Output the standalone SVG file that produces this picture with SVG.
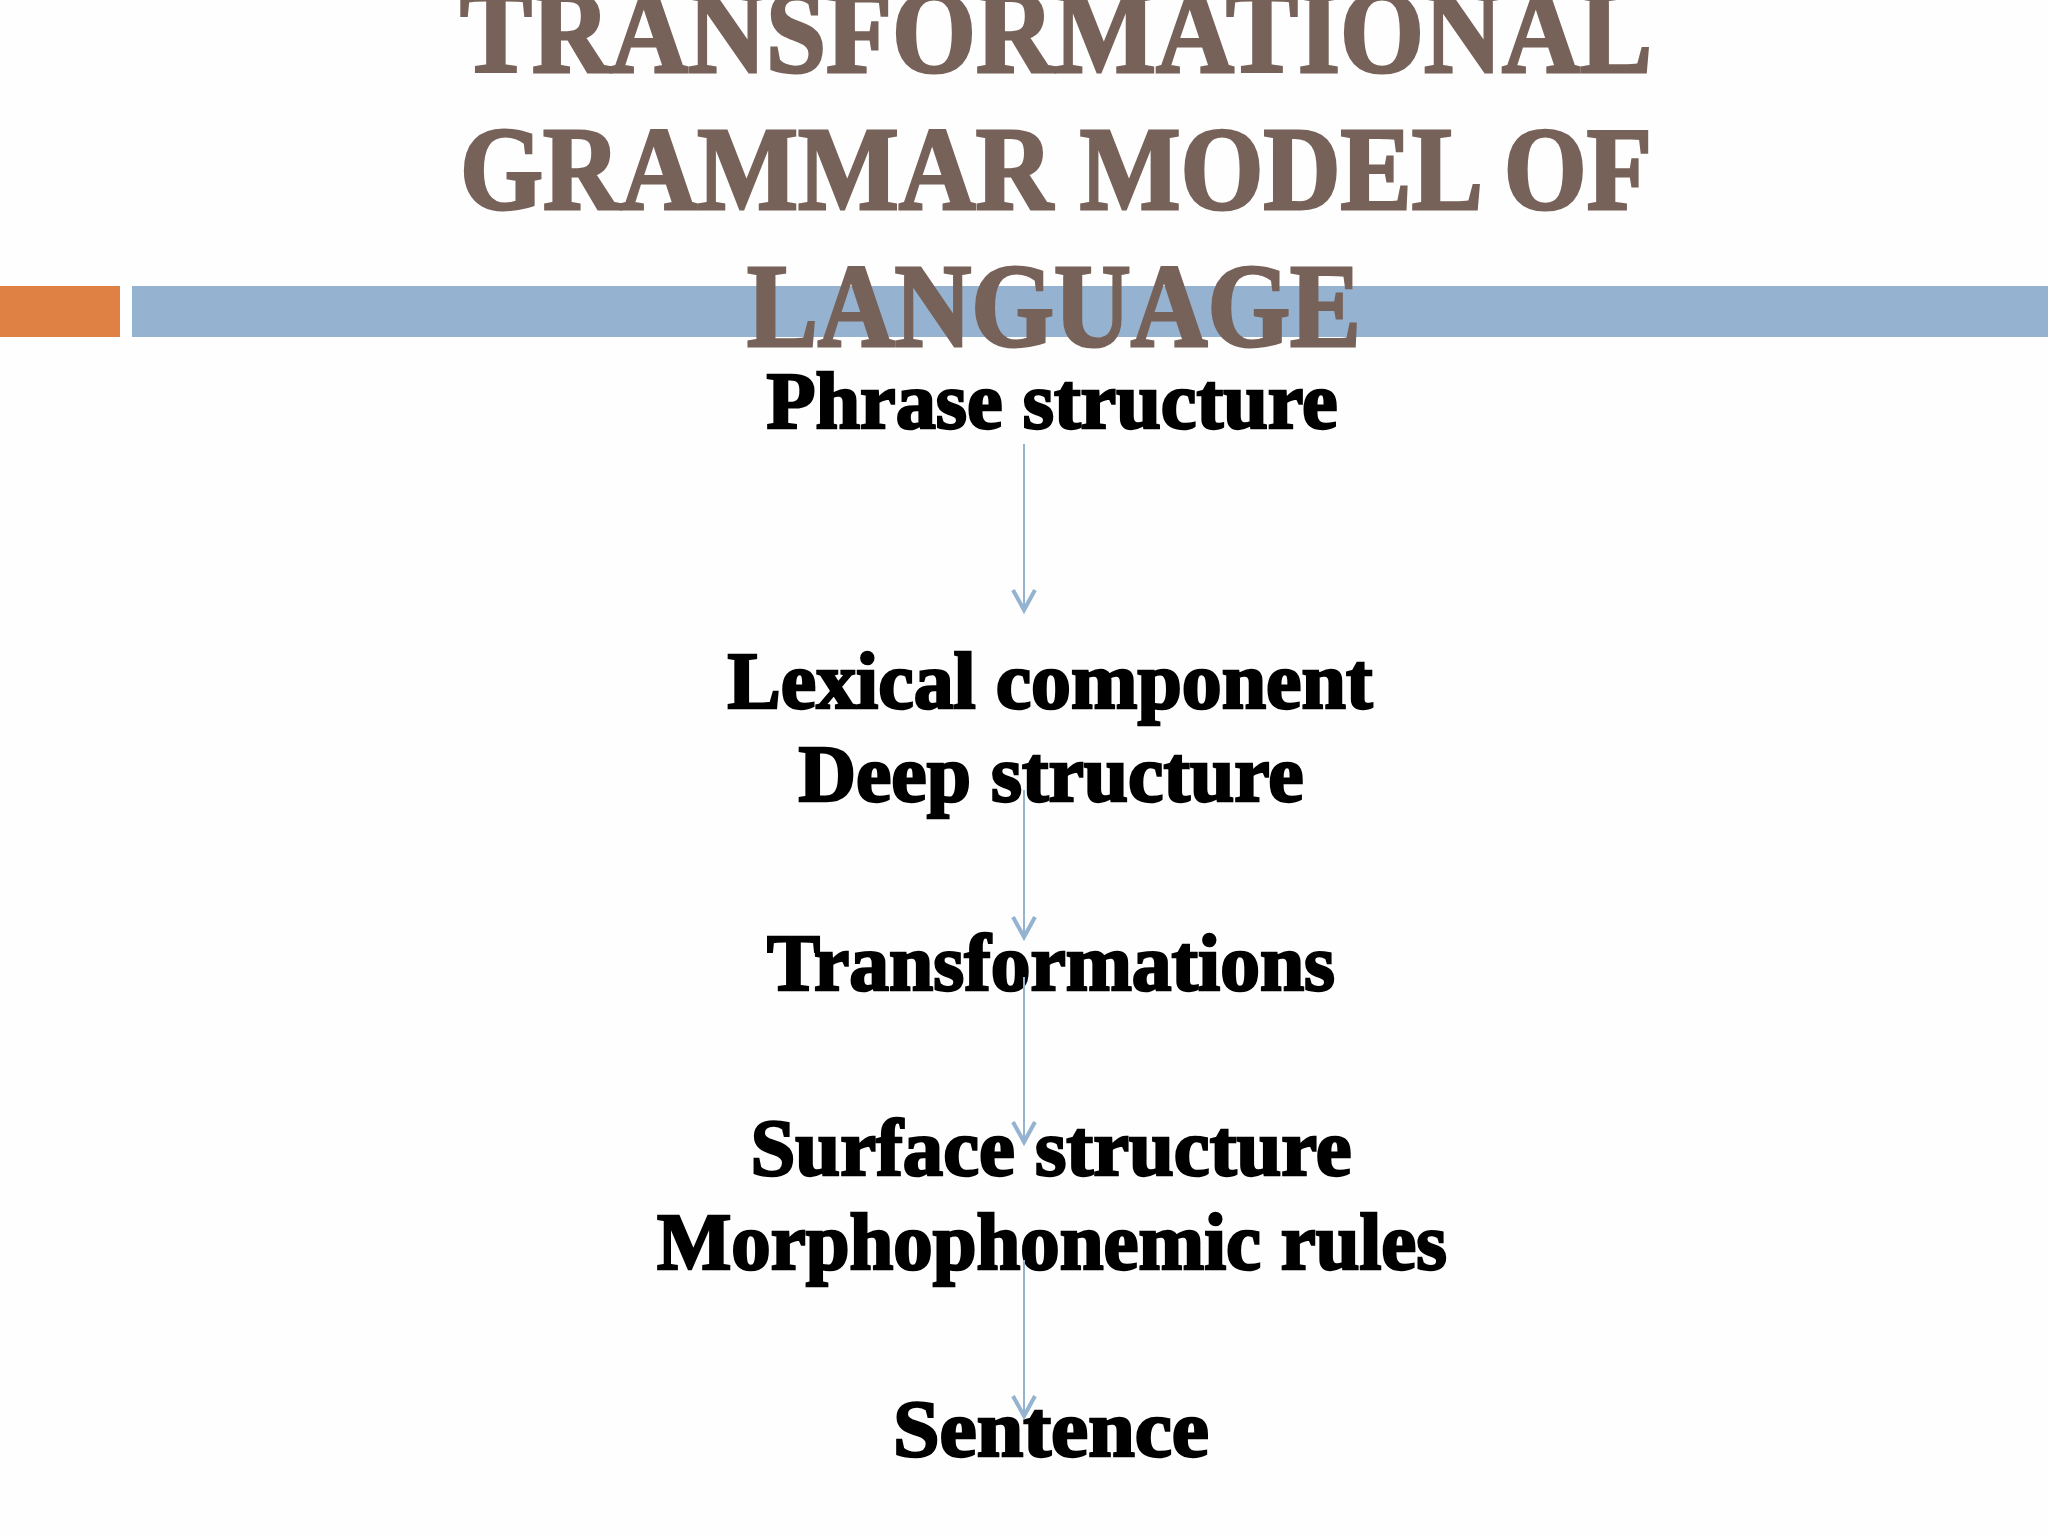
<svg xmlns="http://www.w3.org/2000/svg" width="2048" height="1536" viewBox="0 0 2048 1536">
<style>
.title{font-family:"Liberation Serif","Times New Roman",serif;font-weight:bold;font-size:118px;fill:#77625a;stroke:#77625a;stroke-width:3;text-anchor:middle}
.node{font-family:"Liberation Serif","Times New Roman",serif;font-weight:bold;font-size:80px;fill:#000;stroke:#000;stroke-width:2.5;text-anchor:middle}
.conn{stroke:#94b3d0;stroke-width:2;fill:none}
.head{stroke:#94b3d0;stroke-width:4;fill:none;stroke-linejoin:miter}
</style>
<rect width="2048" height="1536" fill="#fefefe"/>
<g id="decor">
<rect x="0" y="286" width="120" height="51" fill="#df8144"/>
<rect x="132" y="286" width="1916" height="51" fill="#95b3d1"/>
</g>
<g id="title">
<text class="title" x="1056" y="72" textLength="1192" lengthAdjust="spacingAndGlyphs">TRANSFORMATIONAL</text>
<text class="title" x="1056" y="209" textLength="1192" lengthAdjust="spacingAndGlyphs">GRAMMAR MODEL OF</text>
<text class="title" x="1054" y="346" textLength="614" lengthAdjust="spacingAndGlyphs">LANGUAGE</text>
</g>
<g id="node-phrase"><text class="node" x="1052" y="428" textLength="571" lengthAdjust="spacingAndGlyphs">Phrase structure</text></g>
<g id="node-lexical"><text class="node" x="1050" y="708" textLength="645" lengthAdjust="spacingAndGlyphs">Lexical component</text></g>
<g id="node-deep"><text class="node" x="1051" y="801" textLength="505" lengthAdjust="spacingAndGlyphs">Deep structure</text></g>
<g id="node-transformations"><text class="node" x="1051" y="990" textLength="568" lengthAdjust="spacingAndGlyphs">Transformations</text></g>
<g id="node-surface"><text class="node" x="1051" y="1175" textLength="601" lengthAdjust="spacingAndGlyphs">Surface structure</text></g>
<g id="node-morpho"><text class="node" x="1052" y="1269" textLength="790" lengthAdjust="spacingAndGlyphs">Morphophonemic rules</text></g>
<g id="node-sentence"><text class="node" x="1051" y="1456" textLength="316" lengthAdjust="spacingAndGlyphs">Sentence</text></g>
<g id="connectors">
<line class="conn" x1="1024" y1="444" x2="1024" y2="608"/>
<polyline class="head" points="1013,590 1024,610 1035,590"/>
<line class="conn" x1="1024" y1="790" x2="1024" y2="935"/>
<polyline class="head" points="1013,917 1024,937 1035,917"/>
<line class="conn" x1="1024" y1="977" x2="1024" y2="1140"/>
<polyline class="head" points="1013,1122 1024,1142 1035,1122"/>
<line class="conn" x1="1024" y1="1260" x2="1024" y2="1414"/>
<polyline class="head" points="1013,1396 1024,1416 1035,1396"/>
</g>
</svg>
